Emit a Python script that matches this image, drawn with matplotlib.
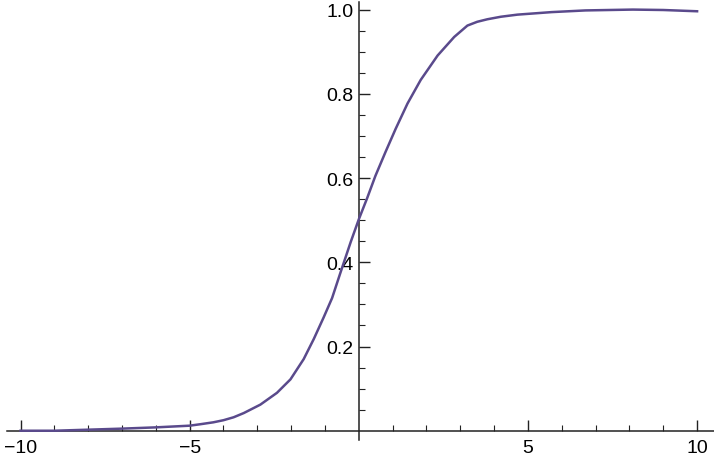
import numpy as np
import matplotlib.pyplot as plt
from matplotlib.ticker import FixedLocator

# values
x_vals = [-10.0, -9.0, -8.2, -7.0, -6.0, -5.0, -4.68, -4.3, -4.0, -3.7, -3.4,
          -2.91, -2.42, -2.02, -1.63, -1.33, -1.04, -0.79, -0.54, -0.24, 0.0,
          0.25, 0.49, 0.79, 1.09, 1.44, 1.83, 2.33, 2.82, 3.21, 3.5, 3.8, 4.2,
          4.69, 5.7, 6.7, 8.1, 9.0, 10.0]
y_vals = [0.0, 0.0, 0.002, 0.005, 0.008, 0.012, 0.0155, 0.020, 0.025, 0.032, 0.042,
          0.062, 0.090, 0.122, 0.170, 0.218, 0.269, 0.315, 0.376, 0.448, 0.502,
          0.553, 0.605, 0.662, 0.717, 0.777, 0.833, 0.891, 0.935, 0.962, 0.971,
          0.977, 0.983, 0.988, 0.994, 0.998, 1.0, 0.999, 0.996]

x_major = [-10, -5, 5, 10]
x_minor = [-9, -8, -7, -6, -4, -3, -2, -1, 1, 2, 3, 4, 6, 7, 8, 9]
y_major = [0.2, 0.4, 0.6, 0.8, 1.0]
y_minor = [0.05, 0.1, 0.15, 0.25, 0.3, 0.35, 0.45, 0.5, 0.55, 0.65, 0.7, 0.75,
           0.85, 0.9, 0.95]

plt.rcParams['font.family'] = ['Liberation Sans', 'DejaVu Sans']

fig = plt.figure(figsize=(7.14, 4.64), dpi=100)
ax = fig.add_axes([7 / 714, 23 / 464, 707 / 714, 438 / 464])

ax.plot(x_vals, y_vals, color='#5a4a8c', lw=1.8, clip_on=False, zorder=3,
        solid_joinstyle='round')

ax.set_xlim(-10.4, 10.5)
ax.set_ylim(-0.022, 1.018)

for s in ['top', 'right']:
    ax.spines[s].set_visible(False)
ax.spines['left'].set_position(('data', 0))
ax.spines['bottom'].set_position(('data', 0))
for s in ['left', 'bottom']:
    ax.spines[s].set_linewidth(1.1)
    ax.spines[s].set_color('#222222')

ax.xaxis.set_major_locator(FixedLocator(x_major))
ax.xaxis.set_minor_locator(FixedLocator(x_minor))
ax.yaxis.set_major_locator(FixedLocator(y_major))
ax.yaxis.set_minor_locator(FixedLocator(y_minor))
ax.set_xticklabels([str(v).replace('-', '\u2212') for v in x_major])
ax.set_yticklabels(['%.1f' % v for v in y_major])

ax.tick_params(which='major', direction='in', length=8, width=1.0,
               color='#222222', labelsize=14, pad=6)
ax.tick_params(which='minor', direction='in', length=4.5, width=0.8,
               color='#222222')
ax.tick_params(axis='y', which='major', pad=4)

fig.savefig('out.png', dpi=100)
